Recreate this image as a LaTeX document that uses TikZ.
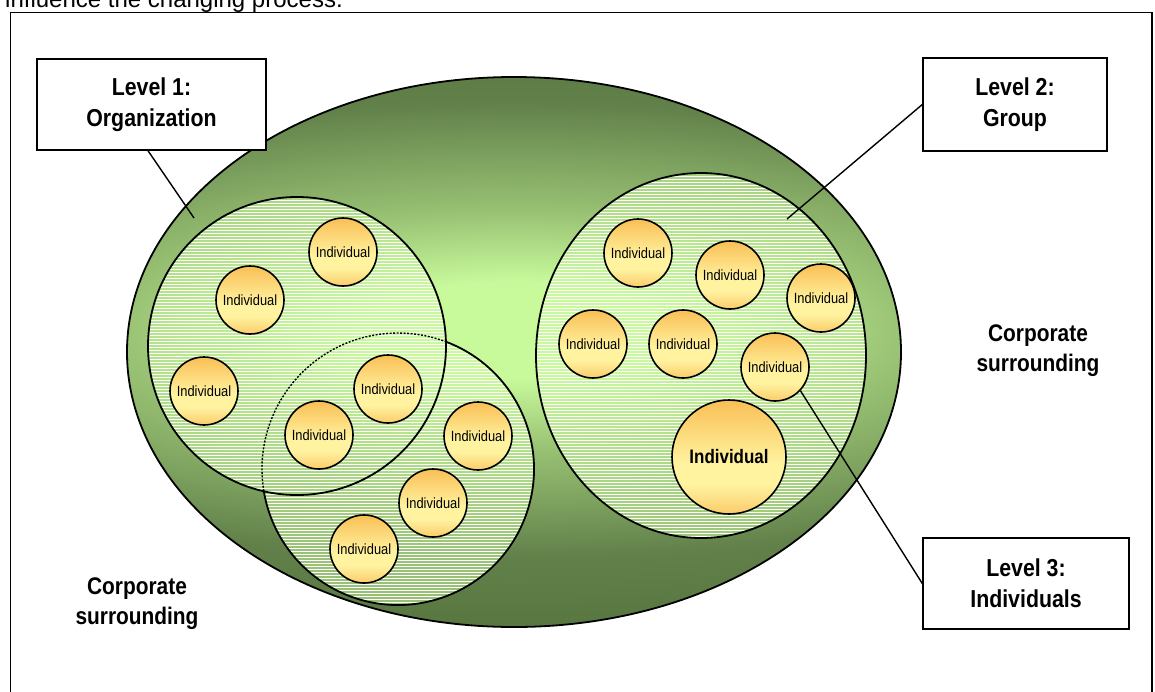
\documentclass[tikz,border=0pt]{standalone}
\usepackage{fontspec}
\setmainfont{Liberation Sans}
\newfontfamily\nar[FakeStretch=0.87]{Liberation Sans}
\definecolor{gA}{HTML}{C8FA9C}
\definecolor{gB}{HTML}{98C173}
\definecolor{gC}{HTML}{61804A}
\definecolor{gD}{HTML}{587640}
\definecolor{oT}{HTML}{F9BF55}
\definecolor{oM}{HTML}{FFF3A0}
\definecolor{oB}{HTML}{FBCB6A}
\pgfdeclareradialshading{greenglow}{\pgfpoint{0bp}{0bp}}{color(0bp)=(gA); color(4bp)=(gA); color(10bp)=(gB); color(19bp)=(gC); color(25bp)=(gD); color(50bp)=(gD)}
\pgfdeclareverticalshading{indiv}{100bp}{color(0bp)=(oB); color(25bp)=(oB); color(38bp)=(oM); color(47bp)=(oM); color(75bp)=(oT); color(100bp)=(oT)}
\begin{document}
\begin{tikzpicture}[x=1pt,y=-1pt,
  ind/.style={circle, draw, line width=1.6pt, minimum size=68pt, inner sep=0pt, shading=indiv,
    font=\nar\fontsize{14.8}{16}\selectfont},
  bigind/.style={ind, minimum size=114pt, font=\nar\bfseries\fontsize{19.5}{22}\selectfont},
  lvl/.style={draw, fill=white, line width=1.4pt, align=center, inner sep=0pt,
    font=\nar\bfseries\fontsize{24.5}{31}\selectfont},
  corp/.style={align=center, inner sep=0pt, font=\nar\bfseries\fontsize{24}{30}\selectfont},
  conn/.style={line width=1.4pt},
  outline/.style={line width=1.8pt},
  lightlayer/.style={fill=gA, fill opacity=0.55},
  stripe/.style={fill=white}]
\useasboundingbox (0,0) rectangle (1155,691);
\clip (0,0) rectangle (1155,691);
% caption cut off at the top
\node[anchor=base west, inner sep=0pt, font=\fontsize{24}{28}\selectfont] (cap) at (5,7) {influence the changing process.};
% frame
\draw[line width=1.5pt] (10.5,12.5) rectangle (1152,720);
% corporate ellipse
\begin{scope}
  \clip (514,352) ellipse [x radius=387, y radius=275];
  \shade[shading=greenglow] (-486,30) rectangle (1514,630);
\end{scope}
\draw[outline] (514,352) ellipse [x radius=387, y radius=275];
% groups: fills
\fill[lightlayer] (297,346) circle [radius=149] (398,469) circle [radius=136]
  (701,355.5) ellipse [x radius=165, y radius=182.5];
\begin{scope}
  \clip (297,346) circle [radius=149] (398,469) circle [radius=136]
    (701,355.5) ellipse [x radius=165, y radius=182.5];
  \foreach \y in {170,173,...,608} {
    \fill[stripe] (140,\y) rectangle (880,\y+1.4);
  }
\end{scope}
% groups: outlines
\draw[outline] (297,346) circle [radius=149];
\draw[outline] (398,469) ++(290.6:136) arc [start angle=290.6, end angle=530.6, radius=136];
\draw[line width=1.4pt, dash pattern=on 2pt off 1.5pt] (398,469) ++(170.6:136) arc [start angle=170.6, end angle=290.6, radius=136];
\draw[outline] (701,355.5) ellipse [x radius=165, y radius=182.5];
% individuals
\node[ind] (i1) at (343,252) {Individual};
\node[ind] (i2) at (250,300) {Individual};
\node[ind] (i3) at (204,391) {Individual};
\node[ind] (i4) at (388,389) {Individual};
\node[ind] (i5) at (319,435) {Individual};
\node[ind] (i6) at (478,436) {Individual};
\node[ind] (i7) at (433,503) {Individual};
\node[ind] (i8) at (364,549) {Individual};
\node[ind] (i9) at (638,253) {Individual};
\node[ind] (i10) at (730,275) {Individual};
\node[ind] (i11) at (821,298) {Individual};
\node[ind] (i12) at (593,344) {Individual};
\node[ind] (i13) at (683,344) {Individual};
\node[ind] (i14) at (775,367) {Individual};
\node[bigind] (i15) at (729,457) {Individual};
% level boxes
\node[lvl, minimum width=229pt, minimum height=91pt] (l1) at (151.5,104.5) {Level 1:\\Organization};
\node[lvl, minimum width=184pt, minimum height=93pt] (l2) at (1015,104.5) {Level 2:\\Group};
\node[lvl, minimum width=206pt, minimum height=91pt] (l3) at (1026,583.5) {Level 3:\\Individuals};
% connectors
\coordinate (e1) at (194,218);
\coordinate (e2) at (787,219);
\draw[conn] ([xshift=-3.5pt]l1.south) -- (e1);
\draw[conn] (l2.west) -- (e2);
\draw[conn] (l3.west) -- (i14.-43);
% corporate surrounding
\node[corp] (cs1) at (137,604) {Corporate\\surrounding};
\node[corp] (cs2) at (1038,351) {Corporate\\surrounding};
\end{tikzpicture}
\end{document}
